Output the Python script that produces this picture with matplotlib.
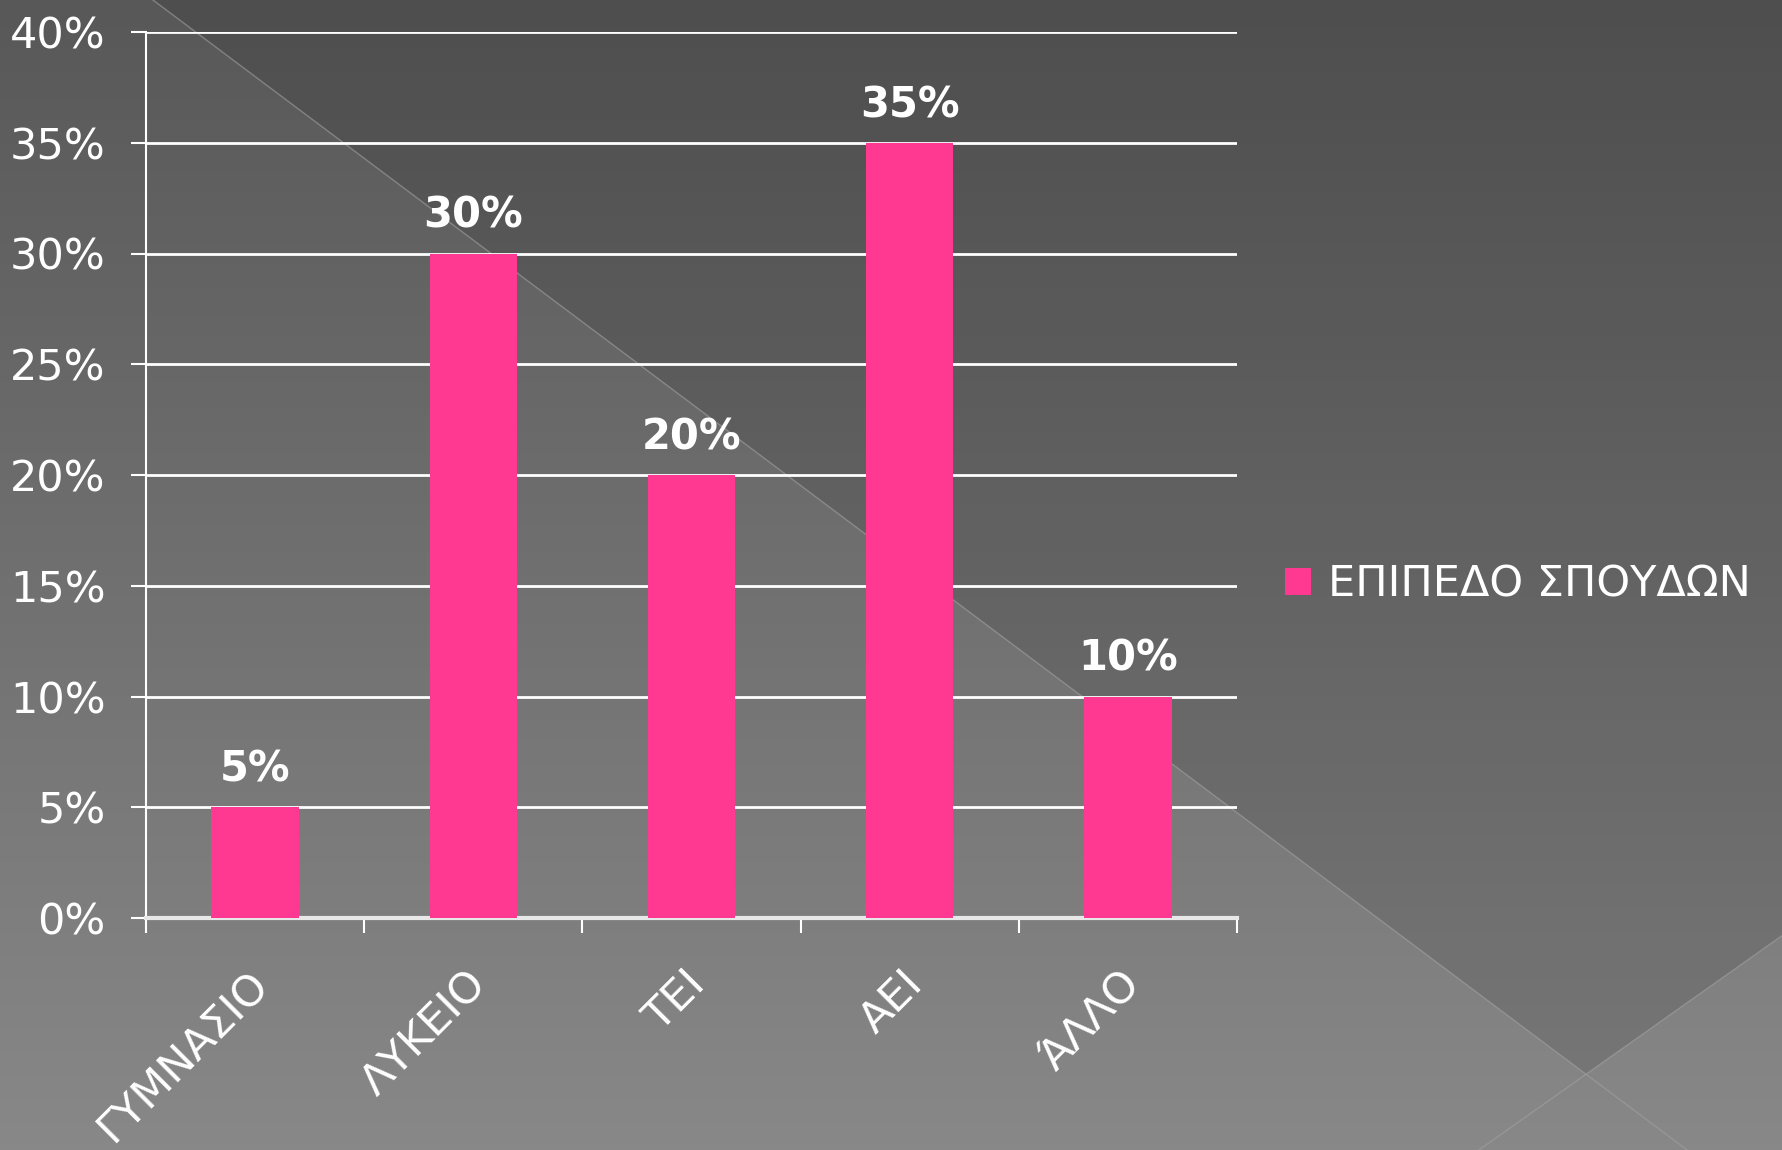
import matplotlib
matplotlib.use('Agg')
import matplotlib.pyplot as plt
import matplotlib.transforms as mtransforms
import numpy as np
from matplotlib.patches import Polygon
from matplotlib.ticker import PercentFormatter

plt.rcParams['font.family'] = ['DejaVu Sans']

# δεδομένα
categories = ['ΓΥΜΝΑΣΙΟ', 'ΛΥΚΕΙΟ', 'ΤΕΙ', 'ΑΕΙ', 'ΆΛΛΟ']
values = [0.05, 0.30, 0.20, 0.35, 0.10]
series_name = 'ΕΠΙΠΕΔΟ ΣΠΟΥΔΩΝ'
yticks = [0, 0.05, 0.10, 0.15, 0.20, 0.25, 0.30, 0.35, 0.40]

W, H = 1783, 1150
fig = plt.figure(figsize=(W / 100, H / 100), dpi=100)

# φόντο με διαβάθμιση και διαγώνιες
bg = fig.add_axes([0, 0, 1, 1], zorder=-10)
grad = np.linspace(0x58, 0x88, 256)[:, None] / 255.0
img = np.dstack([grad, grad, grad])
bg.imshow(img, extent=[0, W, H, 0], aspect='auto')
bg.add_patch(Polygon([(153, 0), (W, 0), (W, 935), (1586, 1074)],
                     closed=True, facecolor='black', alpha=0.11, lw=0))
bg.plot([153, 1687], [0, 1150], color='#a0a0a0', lw=1, alpha=0.6)
bg.plot([W, 1479], [935, 1150], color='#a0a0a0', lw=1, alpha=0.6)
bg.set_xlim(0, W)
bg.set_ylim(H, 0)
bg.axis('off')

# κύριο γράφημα
ax = fig.add_axes([146 / W, (H - 918) / H, (1237 - 146) / W, (918 - 32) / H])
ax.patch.set_alpha(0)
x = np.arange(len(categories))
ax.bar(x, values, width=0.4, color='#ff3891', zorder=3, label=series_name)

for xi, v in zip(x, values):
    ax.annotate(f'{v * 100:.0f}%', (xi, v), xytext=(0, 12), textcoords='offset points',
                ha='center', va='bottom', color='white', fontsize=30, fontweight='bold')

ax.set_xlim(-0.5, len(categories) - 0.5)
ax.set_ylim(0, 0.40)
ax.set_yticks(yticks)
ax.yaxis.set_major_formatter(PercentFormatter(1.0, decimals=0))
ax.grid(axis='y', color='white', lw=2, zorder=1)
ax.tick_params(axis='y', colors='white', labelsize=31, length=11, width=1.5, pad=18)

ax.set_xticks(x)
ax.set_xticklabels(categories, rotation=45, ha='right', va='top', rotation_mode='anchor')
ax.tick_params(axis='x', which='major', length=0, colors='white', labelsize=31, pad=32)
shift = mtransforms.ScaledTranslation(-8 / 100, 0, fig.dpi_scale_trans)
for lab in ax.get_xticklabels():
    lab.set_transform(lab.get_transform() + shift)
ax.set_xticks(np.arange(len(categories) + 1) - 0.5, minor=True)
ax.tick_params(axis='x', which='minor', length=11, width=1.5, color='white')

for s in ['top', 'right']:
    ax.spines[s].set_visible(False)
ax.spines['left'].set_color('white')
ax.spines['left'].set_linewidth(1.5)
ax.spines['bottom'].set_color('#e8e8e8')
ax.spines['bottom'].set_linewidth(3)

leg = fig.legend(loc='center left', bbox_to_anchor=(1268 / W, 1 - 585 / H),
                 frameon=False, fontsize=31, handlelength=0.6, handleheight=0.6,
                 handletextpad=0.4, borderaxespad=0)
for t in leg.get_texts():
    t.set_color('white')

fig.savefig('out.png', dpi=100)
